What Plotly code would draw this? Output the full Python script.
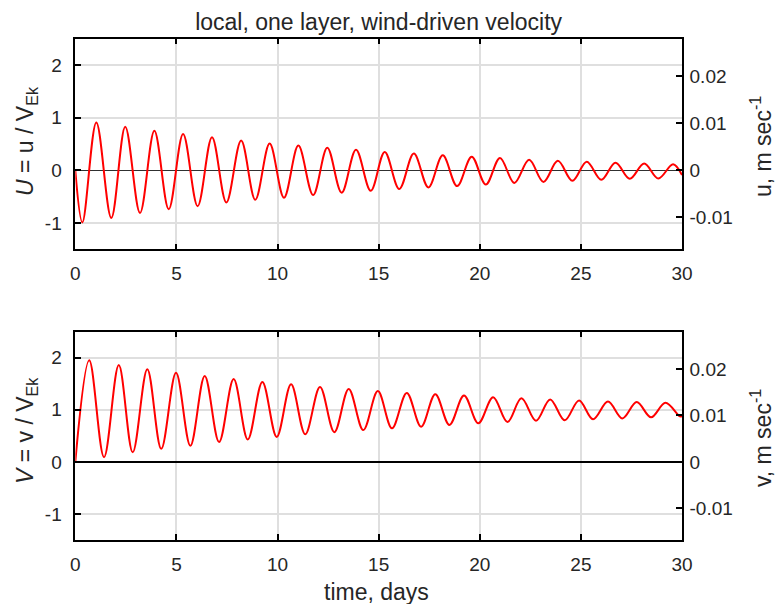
import plotly.graph_objects as go

# ---- data ----
# top panel: U = u / V_Ek  (times of extrema, days)
t_u = [0, 0.35, 1.04, 1.78, 2.47, 3.2, 3.91, 4.62, 5.33, 6.05, 6.76, 7.47, 8.2, 8.9,
       9.61, 10.32, 11.03, 11.76, 12.46, 13.17, 13.88, 14.61, 15.3, 16.02, 16.74,
       17.46, 18.17, 18.88, 19.6, 20.3, 21.0, 21.71, 22.44, 23.15, 23.86, 24.58,
       25.29, 26.01, 26.71, 27.42, 28.13, 28.83, 29.56, 30]
U = [0, -0.99, 0.91, -0.905, 0.83, -0.81, 0.75, -0.74, 0.69, -0.68, 0.63, -0.61,
     0.565, -0.56, 0.51, -0.52, 0.47, -0.47, 0.43, -0.425, 0.39, -0.39, 0.35,
     -0.355, 0.32, -0.325, 0.285, -0.30, 0.26, -0.27, 0.235, -0.24, 0.20, -0.22,
     0.18, -0.20, 0.165, -0.18, 0.145, -0.16, 0.13, -0.155, 0.115, -0.09]

# bottom panel: V = v / V_Ek
t_v = [0, 0.69, 1.42, 2.15, 2.84, 3.56, 4.25, 4.98, 5.69, 6.4, 7.11, 7.83, 8.53,
       9.25, 9.96, 10.67, 11.37, 12.1, 12.81, 13.52, 14.24, 14.96, 15.66, 16.39,
       17.1, 17.8, 18.5, 19.22, 19.93, 20.66, 21.37, 22.06, 22.78, 23.48, 24.2,
       24.91, 25.6, 26.34, 27.05, 27.76, 28.47, 29.18, 29.9, 30]
V = [0, 1.95, 0.09, 1.86, 0.185, 1.78, 0.25, 1.71, 0.31, 1.65, 0.38, 1.59, 0.43,
     1.535, 0.48, 1.49, 0.53, 1.44, 0.57, 1.40, 0.61, 1.36, 0.645, 1.325, 0.675,
     1.30, 0.71, 1.275, 0.74, 1.24, 0.765, 1.22, 0.79, 1.20, 0.80, 1.18, 0.82,
     1.16, 0.835, 1.15, 0.855, 1.135, 0.875, 0.88]

V_EK = 0.0112  # m/s, scale between left and right axes

x_range = [0, 30]
x_ticks = [0, 5, 10, 15, 20, 25, 30]
y_range = [-1.5, 2.5]
y_ticks = [-1, 0, 1, 2]
y_ticktext = ["-1", "0", "1", "2"]
ms_ticks = [-0.01, 0, 0.01, 0.02]
ms_ticktext = ["-0.01", "0", "0.01", "0.02"]

title_text = "local, one layer, wind-driven velocity"
x_title = "time, days"
u_title = "<i>U</i> = u / V<sub>Ek</sub>"
v_title = "<i>V</i> = v / V<sub>Ek</sub>"
u_ms_title = "u, m sec<sup>-1</sup>"
v_ms_title = "v, m sec<sup>-1</sup>"

FONT = "Liberation Sans, Arial, Helvetica, sans-serif"
TXT = "#262626"
W, H = 775, 604

x_dom = [75.3 / W, 682 / W]
top_dom = [1 - 249.3 / H, 1 - 38.7 / H]
bot_dom = [1 - 540 / H, 1 - 331.7 / H]

fig = go.Figure()
line = dict(color="#ff0000", width=2, shape="spline", smoothing=1)
fig.add_trace(go.Scatter(x=t_u, y=U, mode="lines", line=line, xaxis="x", yaxis="y",
                         showlegend=False))
fig.add_trace(go.Scatter(x=t_v, y=V, mode="lines", line=line, xaxis="x2", yaxis="y3",
                         showlegend=False))
# carriers for the right-hand (m/s) axes
fig.add_trace(go.Scatter(x=[None], y=[None], mode="lines", xaxis="x", yaxis="y2",
                         showlegend=False, hoverinfo="skip"))
fig.add_trace(go.Scatter(x=[None], y=[None], mode="lines", xaxis="x2", yaxis="y4",
                         showlegend=False, hoverinfo="skip"))

tickfont = dict(family=FONT, size=19, color=TXT)
common = dict(showline=True, linecolor="black", linewidth=1.5, ticks="inside",
              ticklen=6, tickwidth=1.5, tickcolor="black", tickfont=tickfont,
              gridcolor="#dfdfdf", gridwidth=1.5, automargin=False)

xcommon = dict(common, range=x_range, tickvals=x_ticks, mirror="ticks", showgrid=True,
               zeroline=False, domain=x_dom, ticklabelstandoff=6)
ycommon = dict(common, range=y_range, tickvals=y_ticks, ticktext=y_ticktext,
               mirror=True, showgrid=True, zeroline=True, ticklabelstandoff=8)
ms_range = [y_range[0] * V_EK, y_range[1] * V_EK]
rcommon = dict(common, range=ms_range, tickvals=ms_ticks, ticktext=ms_ticktext,
               side="right", showgrid=False, zeroline=False, ticklabelstandoff=2)

fig.update_layout(
    template="none",
    width=W, height=H,
    margin=dict(l=0, r=0, t=0, b=0),
    paper_bgcolor="white", plot_bgcolor="white",
    showlegend=False,
    title=dict(text=title_text, x=378.6 / W, xanchor="center", y=1 - 22 / H,
               yanchor="middle", font=dict(family=FONT, size=23, color=TXT)),
    xaxis=dict(xcommon, anchor="y"),
    yaxis=dict(ycommon, anchor="x", domain=top_dom, zerolinecolor="#303030",
               zerolinewidth=1),
    yaxis2=dict(rcommon, anchor="x", overlaying="y"),
    xaxis2=dict(xcommon, anchor="y3"),
    yaxis3=dict(ycommon, anchor="x2", domain=bot_dom, zerolinecolor="black",
                zerolinewidth=2),
    yaxis4=dict(rcommon, anchor="x2", overlaying="y3"),
)

afont = dict(family=FONT, size=23, color=TXT)
ann = [
    dict(text=u_title, x=26 / W, y=1 - 141 / H, textangle=-90),
    dict(text=v_title, x=26 / W, y=1 - 431 / H, textangle=-90),
    dict(text=u_ms_title, x=761 / W, y=1 - 147 / H, textangle=-90),
    dict(text=v_ms_title, x=761 / W, y=1 - 438 / H, textangle=-90),
    dict(text=x_title, x=376.5 / W, y=1 - 592 / H, textangle=0),
]
for a in ann:
    fig.add_annotation(xref="paper", yref="paper", showarrow=False, xanchor="center",
                       yanchor="middle", font=afont, **a)

fig.write_html("out.html")
